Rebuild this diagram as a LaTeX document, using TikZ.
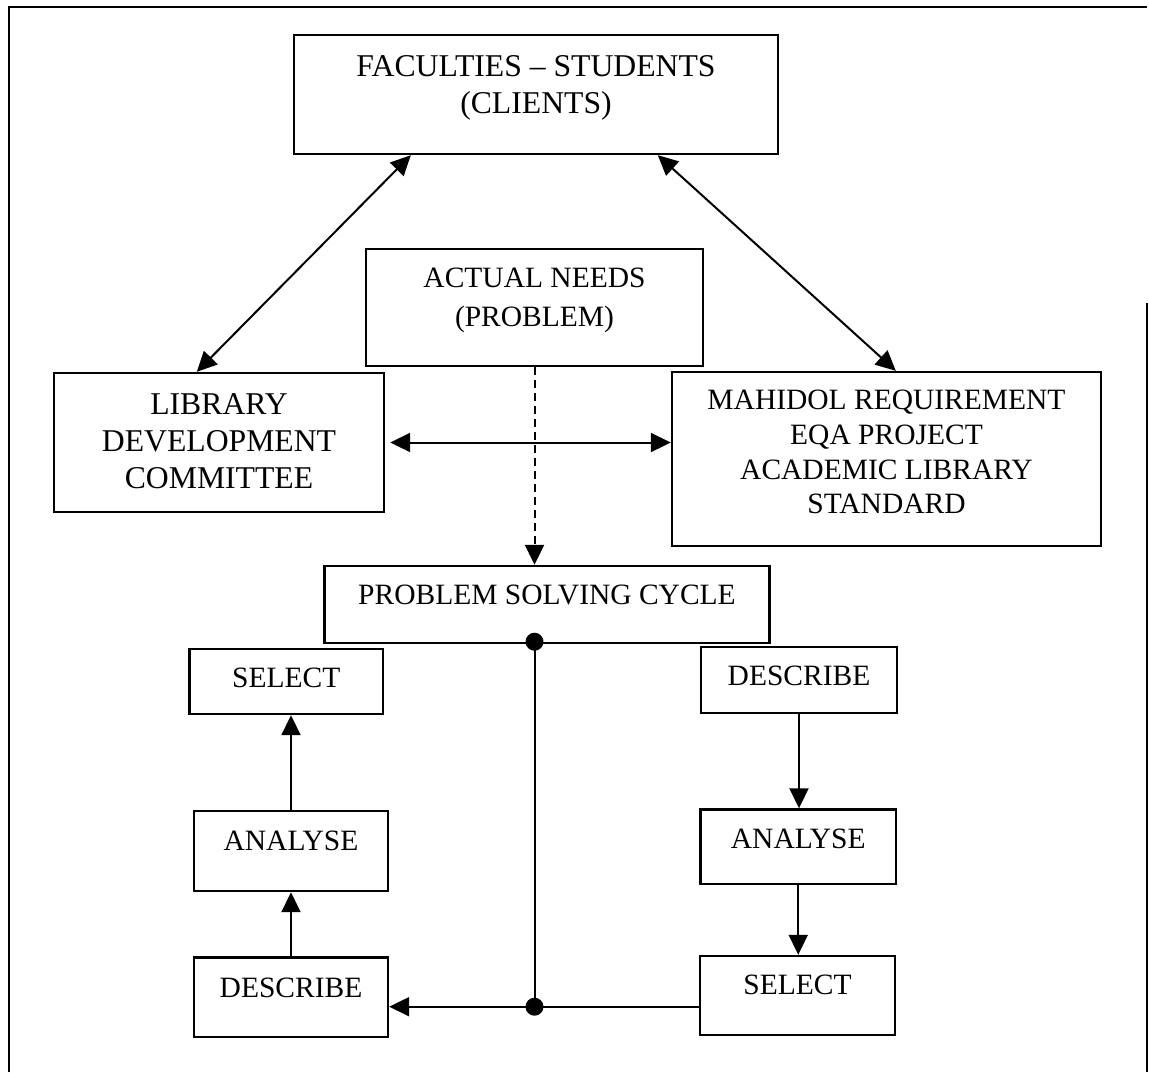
\documentclass[tikz,border=0pt]{standalone}
\usepackage{fontspec}
\setmainfont{Liberation Serif}
\usetikzlibrary{arrows.meta,calc}
\newcommand{\boxtxt}[2]{\raisebox{#1pt}[\height][\depth]{\begin{tabular}{@{}c@{}}#2\end{tabular}}}
\begin{document}
\begin{tikzpicture}[x=1pt,y=-1pt,
  box/.style={draw, line width=2.4pt, rectangle, inner sep=0pt, anchor=center, font=\fontsize{29.5}{38}\selectfont},
  bigbox/.style={box, font=\fontsize{31.7}{37}\selectfont},
  tip/.tip={Triangle[length=20pt,width=19pt]},
  conn/.style={line width=2pt, -tip},
  dconn/.style={line width=2pt, tip-tip},
  dotnode/.style={circle, fill=black, inner sep=0pt, minimum size=18pt},
  frameline/.style={line width=2.6pt}
]
\useasboundingbox (0,0) rectangle (1149,1072);
% frame
\draw[frameline] (9,1072) -- (9,7) -- (1147,7);
\draw[frameline] (1147,303) -- (1147,1072);

% boxes
\node[bigbox, minimum width=484pt, minimum height=119pt] (fac) at (536,94.5)
  {\boxtxt{7}{FACULTIES \textendash{} STUDENTS\\(CLIENTS)}};
\node[box, font=\fontsize{29.5}{38.6}\selectfont, minimum width=337pt, minimum height=117pt] (act) at (534.5,307.5)
  {\boxtxt{8.4}{ACTUAL NEEDS\\(PROBLEM)}};
\node[bigbox, minimum width=330pt, minimum height=139pt] (ldc) at (219,442.5)
  {\boxtxt{-1.6}{LIBRARY\\DEVELOPMENT\\COMMITTEE}};
\node[box, font=\fontsize{29.5}{34.8}\selectfont, minimum width=429pt, minimum height=174pt] (mah) at (886.5,459)
  {\boxtxt{4.2}{MAHIDOL REQUIREMENT\\EQA PROJECT\\ACADEMIC LIBRARY\\STANDARD}};
\node[box, minimum width=445pt, minimum height=77pt] (psc) at (547,604.5)
  {\boxtxt{7.3}{PROBLEM SOLVING CYCLE}};
\node[box, minimum width=193.4pt, minimum height=65pt] (lsel) at (286.3,681.5)
  {\boxtxt{1.3}{SELECT}};
\node[box, minimum width=194pt, minimum height=80pt] (lana) at (291,851)
  {\boxtxt{7.8}{ANALYSE}};
\node[box, minimum width=194pt, minimum height=79.5pt] (ldes) at (291,997.25)
  {\boxtxt{7.8}{DESCRIBE}};
\node[box, minimum width=196pt, minimum height=66pt] (rdes) at (799,680)
  {\boxtxt{1.8}{DESCRIBE}};
\node[box, minimum width=195.5pt, minimum height=74.5pt] (rana) at (798.25,846.75)
  {\boxtxt{6.3}{ANALYSE}};
\node[box, minimum width=195pt, minimum height=79pt] (rsel) at (797.5,995.5)
  {\boxtxt{8.8}{SELECT}};

% dots
\node[dotnode] (dtop) at ($(act.south |- psc.south)+(0,-2.5)$) {};
\node[dotnode] (dbot) at ($(act.south)+(0,639.5)$) {};

% connectors
\draw[dconn] ($(fac.south west)+(118,0)$) -- ($(ldc.north west)+(144,0)$);
\draw[dconn] ($(fac.south west)+(365,0)$) -- ($(mah.north west)+(225,0)$);
\draw[dconn, shorten <=5pt] (ldc.east) -- (ldc.east -| mah.west);
\draw[line width=2pt, dash pattern=on 8pt off 5pt, -tip] (act.south) -- (act.south |- psc.north);
\draw[line width=2pt] (dtop.center) -- (dbot.center);
\draw[conn] (rsel.west |- dbot) -- (dbot.center) -- (ldes.east |- dbot);
\draw[conn] (ldes.north) -- (lana.south);
\draw[conn] (lana.north) -- (lana.north |- lsel.south);
\draw[conn] (rdes.south) -- (rdes.south |- rana.north);
\draw[conn] (rana.south) -- (rana.south |- rsel.north);
\end{tikzpicture}
\end{document}
